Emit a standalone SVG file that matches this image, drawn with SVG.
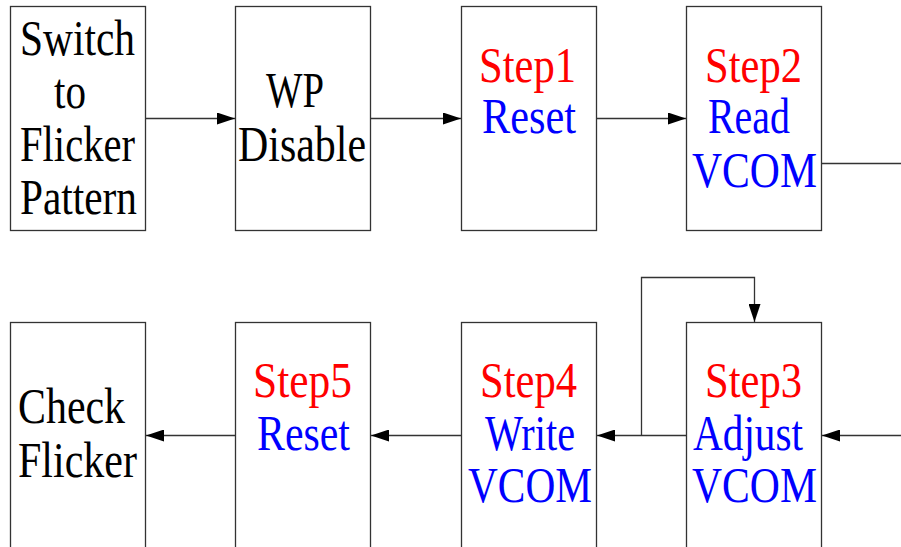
<svg xmlns="http://www.w3.org/2000/svg" width="901" height="547" viewBox="0 0 901 547">
<style>
.box{fill:#fff;stroke:#333;stroke-width:1.3}
.ln{fill:none;stroke:#333;stroke-width:1.3}
.t{font-family:"Liberation Serif","Times New Roman",serif;font-size:50px}
.k{fill:#000}
.r{fill:#ff0000}
.b{fill:#0000ff}
</style>
<defs>
<marker id="ah" markerUnits="userSpaceOnUse" markerWidth="18" markerHeight="12" refX="18" refY="6" orient="auto">
<path d="M0,0 L18,6 L0,12 z" fill="#000"/>
</marker>
</defs>
<rect width="901" height="547" fill="#fff"/>
<g id="connectors">
<line class="ln" x1="145" y1="118.5" x2="235" y2="118.5" marker-end="url(#ah)"/>
<line class="ln" x1="370" y1="118.5" x2="461" y2="118.5" marker-end="url(#ah)"/>
<line class="ln" x1="596" y1="118.5" x2="686" y2="118.5" marker-end="url(#ah)"/>
<line class="ln" x1="821" y1="163.5" x2="901" y2="163.5"/>
<line class="ln" x1="901" y1="435.5" x2="822" y2="435.5" marker-end="url(#ah)"/>
<line class="ln" x1="686" y1="435.5" x2="597" y2="435.5" marker-end="url(#ah)"/>
<polyline class="ln" points="641.5,435.5 641.5,277.5 754.5,277.5 754.5,322" marker-end="url(#ah)"/>
<line class="ln" x1="461" y1="435.5" x2="371" y2="435.5" marker-end="url(#ah)"/>
<line class="ln" x1="235" y1="435.5" x2="146" y2="435.5" marker-end="url(#ah)"/>
</g>
<g id="n1">
<rect class="box" x="10.5" y="6.5" width="135" height="224"/>
<text class="t k" x="20" y="55" textLength="115" lengthAdjust="spacingAndGlyphs">Switch</text>
<text class="t k" x="54" y="108" textLength="32" lengthAdjust="spacingAndGlyphs">to</text>
<text class="t k" x="20" y="161" textLength="115" lengthAdjust="spacingAndGlyphs">Flicker</text>
<text class="t k" x="20" y="214" textLength="117" lengthAdjust="spacingAndGlyphs">Pattern</text>
</g>
<g id="n2">
<rect class="box" x="235.5" y="6.5" width="135" height="224"/>
<text class="t k" x="266" y="107" textLength="58" lengthAdjust="spacingAndGlyphs">WP</text>
<text class="t k" x="238" y="161" textLength="128" lengthAdjust="spacingAndGlyphs">Disable</text>
</g>
<g id="n3">
<rect class="box" x="461.5" y="6.5" width="135" height="224"/>
<text class="t r" x="479" y="82" textLength="97" lengthAdjust="spacingAndGlyphs">Step1</text>
<text class="t b" x="482" y="133" textLength="94" lengthAdjust="spacingAndGlyphs">Reset</text>
</g>
<g id="n4">
<rect class="box" x="686.5" y="6.5" width="135" height="224"/>
<text class="t r" x="705" y="82" textLength="97" lengthAdjust="spacingAndGlyphs">Step2</text>
<text class="t b" x="708" y="133" textLength="82" lengthAdjust="spacingAndGlyphs">Read</text>
<text class="t b" x="692" y="187" textLength="125" lengthAdjust="spacingAndGlyphs">VCOM</text>
</g>
<g id="n5">
<rect class="box" x="686.5" y="322.5" width="135" height="240"/>
<text class="t r" x="705" y="397" textLength="97" lengthAdjust="spacingAndGlyphs">Step3</text>
<text class="t b" x="693" y="450" textLength="110" lengthAdjust="spacingAndGlyphs">Adjust</text>
<text class="t b" x="692" y="502" textLength="125" lengthAdjust="spacingAndGlyphs">VCOM</text>
</g>
<g id="n6">
<rect class="box" x="461.5" y="322.5" width="135" height="240"/>
<text class="t r" x="480" y="397" textLength="97" lengthAdjust="spacingAndGlyphs">Step4</text>
<text class="t b" x="485" y="450" textLength="90" lengthAdjust="spacingAndGlyphs">Write</text>
<text class="t b" x="468" y="502" textLength="124" lengthAdjust="spacingAndGlyphs">VCOM</text>
</g>
<g id="n7">
<rect class="box" x="235.5" y="322.5" width="135" height="240"/>
<text class="t r" x="253" y="397" textLength="99" lengthAdjust="spacingAndGlyphs">Step5</text>
<text class="t b" x="257" y="450" textLength="93" lengthAdjust="spacingAndGlyphs">Reset</text>
</g>
<g id="n8">
<rect class="box" x="10.5" y="322.5" width="135" height="240"/>
<text class="t k" x="18" y="423" textLength="107" lengthAdjust="spacingAndGlyphs">Check</text>
<text class="t k" x="18" y="477" textLength="119" lengthAdjust="spacingAndGlyphs">Flicker</text>
</g>
</svg>
